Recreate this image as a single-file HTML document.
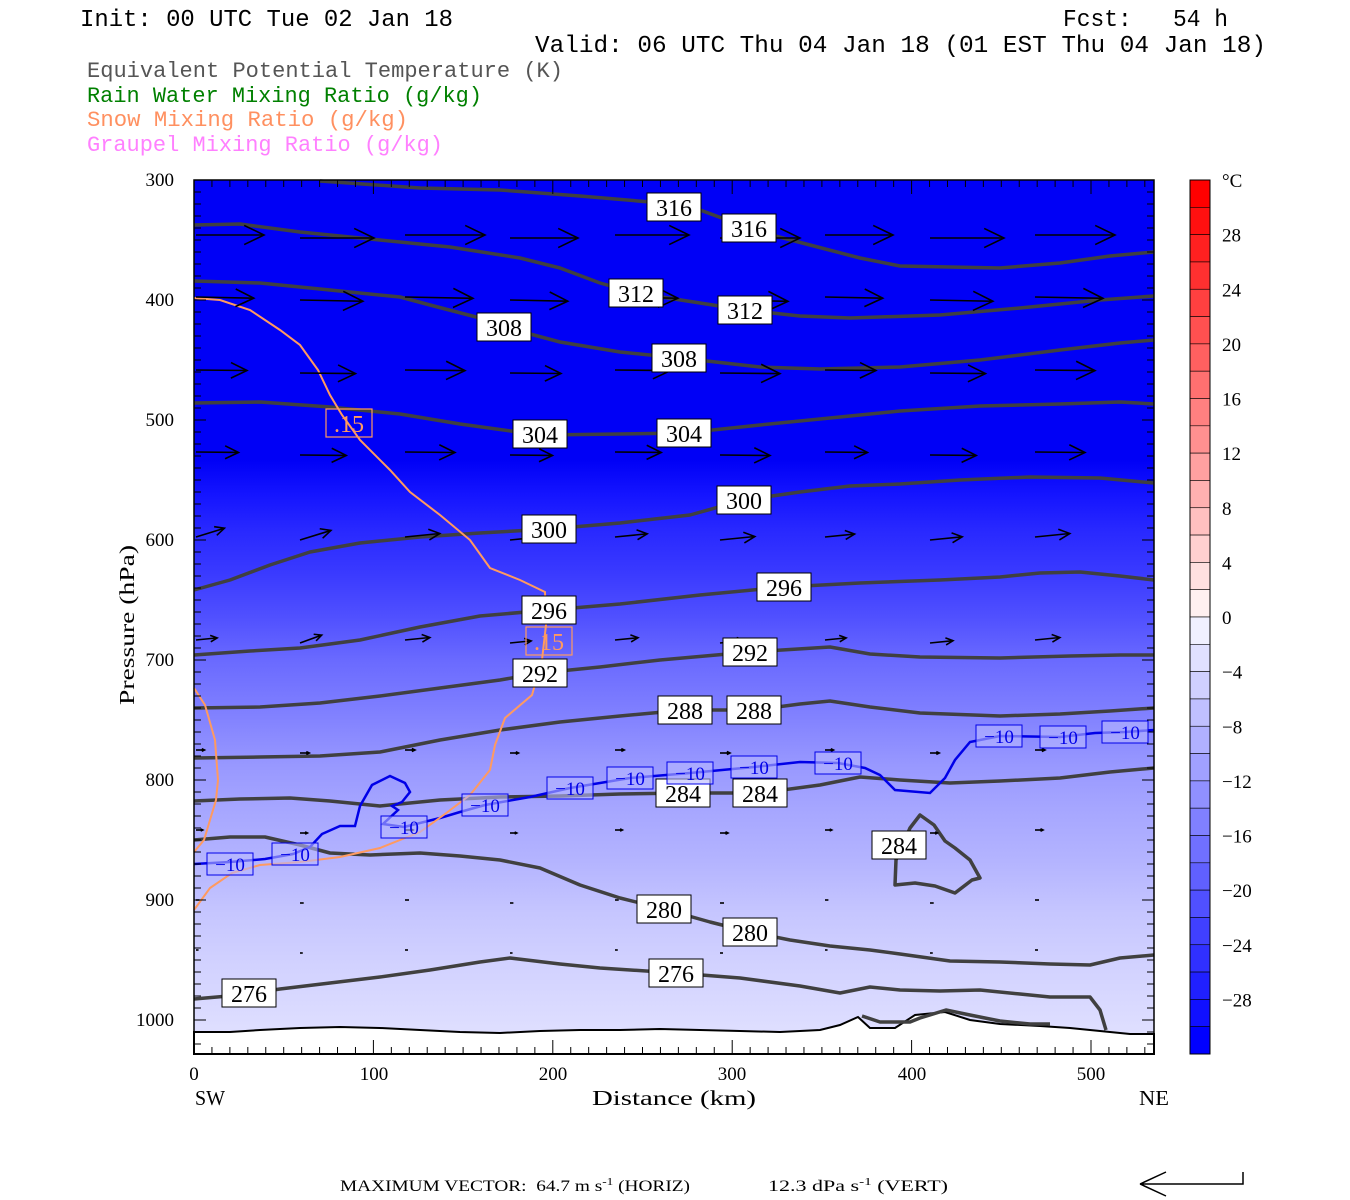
<!DOCTYPE html>
<html><head><meta charset="utf-8"><style>
html,body{margin:0;padding:0;background:#fff;width:1350px;height:1200px;overflow:hidden}
svg{display:block}
.mono{font-family:"Liberation Mono",monospace}
.ser{font-family:"Liberation Serif",serif}
</style></head><body>
<svg id="s" width="1350" height="1200" viewBox="0 0 1350 1200" xmlns="http://www.w3.org/2000/svg">
<defs>
<linearGradient id="bg" x1="0" y1="180" x2="0" y2="1054" gradientUnits="userSpaceOnUse">
<stop offset="0" stop-color="#0000f6"/>
<stop offset="0.32" stop-color="#0000f6"/>
<stop offset="0.36" stop-color="#1414ff"/>
<stop offset="0.40" stop-color="#2828ff"/>
<stop offset="0.45" stop-color="#3a3aff"/>
<stop offset="0.50" stop-color="#5050ff"/>
<stop offset="0.55" stop-color="#6a6aff"/>
<stop offset="0.61" stop-color="#8080ff"/>
<stop offset="0.67" stop-color="#9898ff"/>
<stop offset="0.72" stop-color="#a6a6ff"/>
<stop offset="0.78" stop-color="#b4b4ff"/>
<stop offset="0.84" stop-color="#c6c6ff"/>
<stop offset="0.90" stop-color="#d2d2ff"/>
<stop offset="0.96" stop-color="#dcdcff"/>
<stop offset="1" stop-color="#e4e4ff"/>
</linearGradient>
</defs>
<text x="80" y="26" class="mono" font-size="24" textLength="373" lengthAdjust="spacingAndGlyphs">Init: 00 UTC Tue 02 Jan 18</text>
<text x="1063" y="26" class="mono" font-size="24" textLength="165" lengthAdjust="spacingAndGlyphs">Fcst:&#160;&#160;&#160;54 h</text>
<text x="535" y="52" class="mono" font-size="24" textLength="731" lengthAdjust="spacingAndGlyphs">Valid: 06 UTC Thu 04 Jan 18 (01 EST Thu 04 Jan 18)</text>
<text x="87" y="77" class="mono" font-size="22" fill="#555" textLength="476" lengthAdjust="spacingAndGlyphs">Equivalent Potential Temperature (K)</text>
<text x="87" y="102" class="mono" font-size="22" fill="#008000" textLength="395" lengthAdjust="spacingAndGlyphs">Rain Water Mixing Ratio (g/kg)</text>
<text x="87" y="126" class="mono" font-size="22" fill="#ff9060" textLength="321" lengthAdjust="spacingAndGlyphs">Snow Mixing Ratio (g/kg)</text>
<text x="87" y="151" class="mono" font-size="22" fill="#ff80ff" textLength="356" lengthAdjust="spacingAndGlyphs">Graupel Mixing Ratio (g/kg)</text>

<rect x="194" y="180" width="960" height="874" fill="url(#bg)"/>
<path d="M194,1054 L194,1032 L230,1032 L260,1030 L300,1028 L340,1027 L380,1028 L420,1030 L460,1032 L500,1033 L540,1031 L580,1030 L620,1030 L660,1029 L700,1030 L740,1031 L780,1032 L820,1030 L840,1025 L858,1017 L870,1028 L895,1028 L915,1015 L945,1012 L970,1020 L1000,1024 L1040,1026 L1070,1028 L1100,1031 L1130,1034 L1154,1034 L1154,1054 Z" fill="#fff" stroke="#000" stroke-width="2"/>
<g id="theta" fill="none" stroke="#404040" stroke-width="3.5" stroke-linejoin="round">
<path d="M320,181 L420,188 L500,190 L580,196 L650,202 L700,210 L760,232 L810,245 L860,258 L900,266 L1000,268 L1060,263 L1110,256 L1154,252"/>
<path d="M194,225 L240,224 L300,232 L380,240 L450,247 L520,258 L560,268 L600,283 L636,293 L700,303 L745,310 L800,316 L850,318 L940,315 L1020,308 L1100,300 L1154,296"/>
<path d="M194,281 L260,283 L330,290 L400,297 L430,305 L480,318 L504,327 L560,342 L620,352 L680,358 L760,367 L820,369 L900,367 L980,360 L1060,350 L1120,343 L1154,340"/>
<path d="M194,403 L260,402 L330,407 L400,414 L460,424 L540,435 L620,434 L684,433 L760,425 L830,418 L900,411 L980,406 L1060,404 L1120,402 L1154,404"/>
<path d="M194,590 L230,580 L270,565 L310,552 L360,543 L420,537 L480,533 L549,529 L620,523 L690,515 L744,500 L800,492 L850,486 L900,484 L960,480 L1030,477 L1100,478 L1154,483"/>
<path d="M194,655 L250,651 L300,648 L360,640 L420,627 L480,616 L549,610 L620,604 L700,595 L784,587 L860,583 L940,580 L1000,577 L1040,573 L1080,572 L1120,576 L1154,580"/>
<path d="M194,708 L260,707 L320,703 L380,696 L440,688 L500,680 L540,673 L600,667 L660,660 L750,652 L830,647 L870,654 L920,657 L1000,658 L1070,656 L1120,655 L1154,655"/>
<path d="M194,758 L260,757 L320,756 L380,752 L440,740 L500,730 L560,722 L620,716 L685,710 L754,710 L800,704 L830,701 L870,707 L920,713 L1000,716 L1060,714 L1110,711 L1154,708"/>
<path d="M194,801 L240,799 L290,798 L330,801 L380,806 L440,800 L500,797 L560,796 L620,794 L683,793 L760,793 L820,785 L860,777 L900,780 L950,783 L1000,781 L1060,778 L1110,772 L1154,768"/>
<path d="M895,885 L896,860 L910,828 L920,815 L934,825 L945,841 L955,848 L970,860 L980,878 L972,880 L955,893 L935,886 L915,883 L895,885 Z"/>
<path d="M194,840 L230,837 L265,837 L300,845 L330,853 L370,855 L420,853 L460,856 L500,860 L540,868 L580,885 L620,898 L664,909 L710,922 L750,932 L790,940 L830,946 L870,950 L900,954 L950,961 L1000,962 L1050,964 L1090,965 L1120,958 L1154,955"/>
<path d="M194,999 L240,995 L280,989 L330,983 L380,977 L430,970 L480,962 L510,958 L560,964 L600,968 L676,973 L740,978 L800,986 L840,993 L870,987 L900,990 L940,991 L980,990 L1020,994 L1050,997 L1090,997 L1100,1010 L1106,1030"/>
<path d="M862,1016 L880,1022 L910,1022 L920,1018 L946,1010 L970,1015 L1000,1021 L1030,1024 L1050,1024"/>
</g>
<path d="M194,864 L230,862 L265,859 L293,854 L310,847 L322,834 L340,826 L355,826 L360,806 L372,785 L390,776 L405,783 L410,792 L402,802 L392,806 L398,810 L383,824 L404,827 L440,818 L460,812 L485,805 L530,797 L570,788 L630,778 L690,773 L754,767 L800,762 L838,763 L865,768 L880,775 L895,790 L930,793 L945,778 L955,760 L970,742 L1000,736 L1060,737 L1095,733 L1125,732 L1154,730" fill="none" stroke="#0000e8" stroke-width="2.5"/>
<g fill="none" stroke="#ff9a60" stroke-width="2">
<path d="M194,298 L220,300 L250,310 L280,330 L300,345 L318,370 L330,395 L342,415 L360,440 L390,470 L410,492 L440,515 L470,540 L490,568 L520,580 L545,592 L546,625 L542,660 L532,695 L505,718 L495,745 L490,770 L470,795 L445,814 L420,832 L380,848 L340,857 L300,862 L260,865 L232,873 L210,888 L194,910"/>
<path d="M194,688 L205,705 L215,740 L218,780 L216,800 L210,820 L204,840 L194,852"/>
</g>
<g id="arrows" stroke="#000" stroke-width="1.6" fill="none"></g>
<rect x="194" y="180" width="960" height="874" fill="none" stroke="#000" stroke-width="1.5"/>
<g id="ticks" stroke="#000" stroke-width="1"></g>
<g class="ser" font-size="24" text-anchor="middle"><g id="tl"></g></g>
<g id="cb"></g>
<g class="ser" font-size="19" id="yl"></g>
<text x="0" y="0" class="ser" font-size="21" text-anchor="middle" transform="translate(134,625) rotate(-90)" textLength="160" lengthAdjust="spacingAndGlyphs">Pressure (hPa)</text>
<g class="ser" font-size="19" text-anchor="middle">
<text x="194" y="1080">0</text><text x="374" y="1080">100</text><text x="553" y="1080">200</text><text x="732" y="1080">300</text><text x="912" y="1080">400</text><text x="1091" y="1080">500</text>
</g>
<text x="195" y="1105" class="ser" font-size="21" textLength="30" lengthAdjust="spacingAndGlyphs">SW</text>
<text x="1139" y="1105" class="ser" font-size="21" textLength="30" lengthAdjust="spacingAndGlyphs">NE</text>
<text x="592" y="1105" class="ser" font-size="21" textLength="164" lengthAdjust="spacingAndGlyphs">Distance (km)</text>
<text x="340" y="1191" class="ser" font-size="16" textLength="350" lengthAdjust="spacingAndGlyphs">MAXIMUM VECTOR:&#160;&#160;64.7 m s<tspan dy="-6" font-size="11">-1</tspan><tspan dy="6"> (HORIZ)</tspan></text>
<text x="768" y="1191" class="ser" font-size="16" textLength="180" lengthAdjust="spacingAndGlyphs">12.3 dPa s<tspan dy="-6" font-size="11">-1</tspan><tspan dy="6"> (VERT)</tspan></text>
<path d="M1140,1184 L1243,1184 L1243,1172 M1140,1184 L1166,1172 M1140,1184 L1166,1196" stroke="#000" stroke-width="1.5" fill="none"/>
</svg>
<script>
var NS="http://www.w3.org/2000/svg";
function el(p,t,a,txt){var e=document.createElementNS(NS,t);for(var k in a)e.setAttribute(k,a[k]);if(txt!==undefined)e.textContent=txt;p.appendChild(e);return e;}
var tk=document.getElementById('ticks');
for(var p=300;p<=1020;p+=10){var y=180+(p-300)*1.2;var L=(p%100==0)?12:7;el(tk,'line',{x1:194,y1:y,x2:194+L,y2:y});el(tk,'line',{x1:1154,y1:y,x2:1154-L,y2:y});}
for(var d=0;d<=530;d+=10){var x=194+d*1.794;var L=(d%100==0)?14:7;el(tk,'line',{x1:x,y1:1054,x2:x,y2:1054-L});el(tk,'line',{x1:x,y1:180,x2:x,y2:180+L});}
var yl=document.getElementById('yl');
for(var p=300;p<=1000;p+=100){el(yl,'text',{x:174,y:180+(p-300)*1.2+6,'text-anchor':'end'},String(p));}
var cb=document.getElementById('cb');var h=874/32;
for(var i=0;i<32;i++){var c;if(i<16){var v=Math.min(255,i*16);c='rgb(255,'+v+','+v+')';}else{var j=31-i;var v=Math.min(255,j*16);c='rgb('+v+','+v+',255)';}
el(cb,'rect',{x:1190,y:180+i*h,width:20,height:h,fill:c,stroke:'#000','stroke-width':0.6});}
el(cb,'rect',{x:1190,y:180,width:20,height:874,fill:'none',stroke:'#000','stroke-width':1});
var labs=['°C','28','24','20','16','12','8','4','0','−4','−8','−12','−16','−20','−24','−28'];
for(var i=0;i<labs.length;i++){el(cb,'text',{x:1222,y:180+i*2*h+7,'font-family':'Liberation Serif,serif','font-size':19},labs[i]);}
var ag=document.getElementById('arrows');
var rows=[[235,80,0],[297,68,0.02],[370,60,0.01],[452,50,0.01],[537,35,-0.1],[640,25,-0.1],[750,10,0],[830,8,0],[900,4,0],[950,3,0]];
var cols=[196,300,405,510,615,720,825,930,1035];
rows.forEach(function(r){cols.forEach(function(x,ci){var len=r[1]*(0.85+0.15*((ci*7)%3)/2);var y=r[0]+(ci%2?3:0);var ang=r[2];if(r[0]==537&&ci<2)ang=-0.3;if(r[0]==640&&ci==1)ang=-0.35;
var x2=x+len*Math.cos(ang),y2=y+len*Math.sin(ang);
el(ag,'line',{x1:x,y1:y,x2:x2,y2:y2});
if(len>6){var hl=Math.min(22,len*0.35);var a1=ang+Math.PI-0.45,a2=ang+Math.PI+0.45;
el(ag,'path',{d:'M'+(x2+hl*Math.cos(a1))+','+(y2+hl*Math.sin(a1))+' L'+x2+','+y2+' L'+(x2+hl*Math.cos(a2))+','+(y2+hl*Math.sin(a2))});}});});
var tl=document.getElementById('tl');
var L=[[674,207,'316'],[749,228,'316'],[636,293,'312'],[745,310,'312'],[504,327,'308'],[679,358,'308'],[540,434,'304'],[684,433,'304'],[549,529,'300'],[744,500,'300'],[549,610,'296'],[784,587,'296'],[540,673,'292'],[750,652,'292'],[685,710,'288'],[754,710,'288'],[683,793,'284'],[760,793,'284'],[899,845,'284'],[664,909,'280'],[750,932,'280'],[676,973,'276'],[249,993,'276']];
L.forEach(function(l){el(tl,'rect',{x:l[0]-27,y:l[1]-14,width:54,height:28,fill:'#fff',stroke:'#000','stroke-width':1});el(tl,'text',{x:l[0],y:l[1]+9},l[2]);});
var B=[[230,864],[295,854],[404,827],[485,805],[570,788],[630,778],[690,773],[754,767],[838,763],[999,736],[1063,737],[1125,732]];
B.forEach(function(l){el(tl,'rect',{x:l[0]-23,y:l[1]-11,width:46,height:22,fill:'#b8b8ff','fill-opacity':0.6,stroke:'#0000e8','stroke-width':1});el(tl,'text',{x:l[0],y:l[1]+7,fill:'#0000e8','font-size':19},'−10');});
[[349,423],[549,641]].forEach(function(l){el(tl,'rect',{x:l[0]-23,y:l[1]-14,width:46,height:28,fill:'none',stroke:'#ff9a60','stroke-width':1.2});el(tl,'text',{x:l[0],y:l[1]+9,fill:'#ff9a60','font-size':24},'.15');});
</script>
</body></html>
